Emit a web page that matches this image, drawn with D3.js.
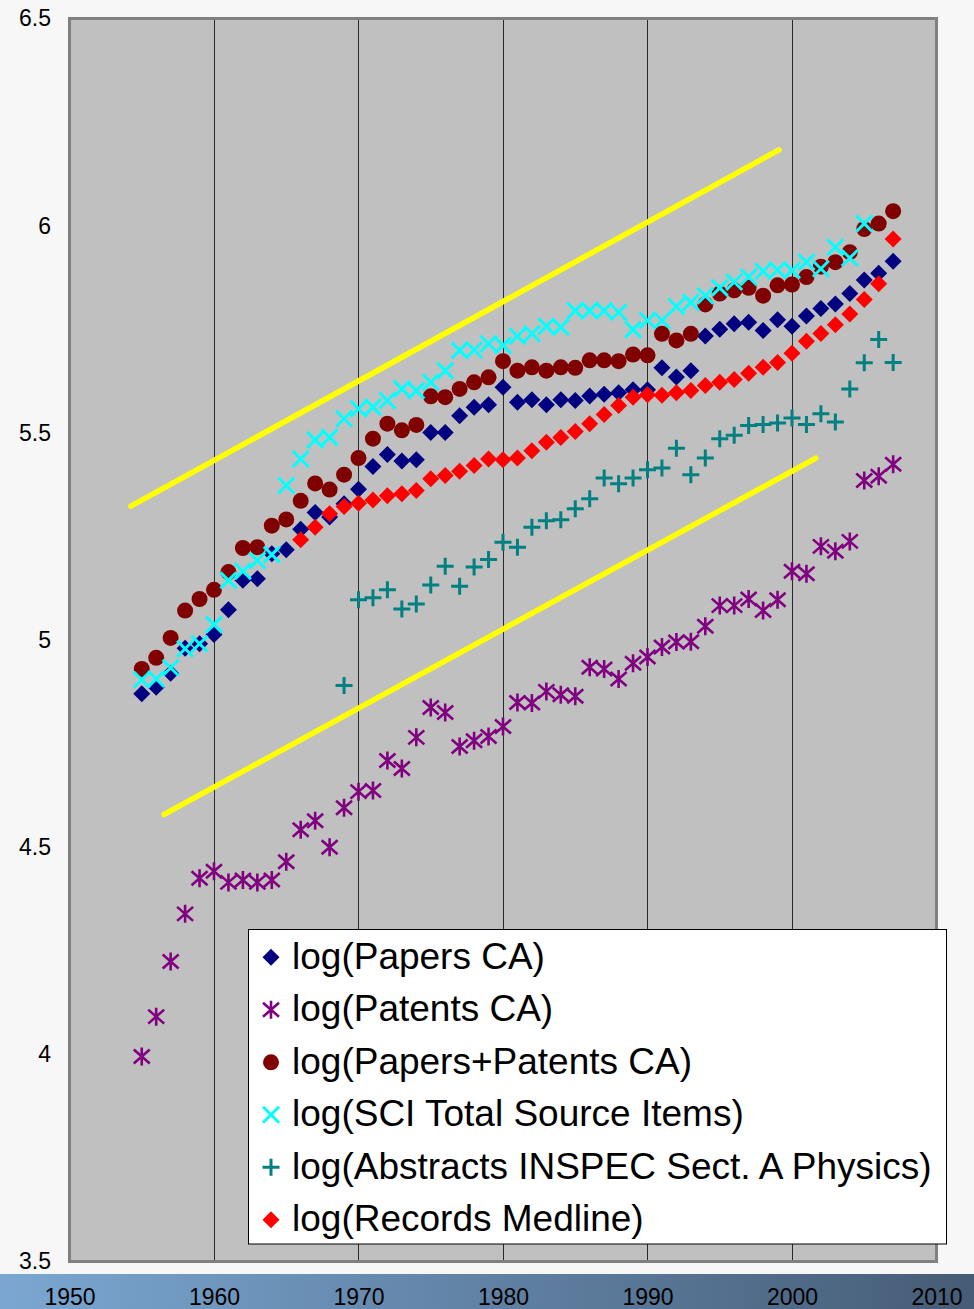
<!DOCTYPE html>
<html lang="en">
<head>
    <script src='https://d3js.org/d3.v7.min.js'></script>
    <style>
      body { margin: 0; background: #f7f7f7; }
      svg { display: block; font-family: "Liberation Sans", Arial, sans-serif; }
    </style>
</head>
<body>
<script>
// years on the x axis
var years = [1955, 1956, 1957, 1958, 1959, 1960, 1961, 1962, 1963, 1964,
  1965, 1966, 1967, 1968, 1969, 1970, 1971, 1972, 1973, 1974,
  1975, 1976, 1977, 1978, 1979, 1980, 1981, 1982, 1983, 1984,
  1985, 1986, 1987, 1988, 1989, 1990, 1991, 1992, 1993, 1994,
  1995, 1996, 1997, 1998, 1999, 2000, 2001, 2002, 2003, 2004,
  2005, 2006, 2007];

var papersCA = [4.870, 4.886, 4.920, 4.980, 4.991, 5.013, 5.073, 5.144, 5.148, 5.208,
  5.218, 5.267, 5.308, 5.297, 5.329, 5.364, 5.419, 5.448, 5.432, 5.435,
  5.501, 5.501, 5.541, 5.562, 5.568, 5.610, 5.574, 5.580, 5.568, 5.580,
  5.578, 5.589, 5.593, 5.597, 5.604, 5.604, 5.657, 5.635, 5.650, 5.734,
  5.750, 5.763, 5.767, 5.747, 5.773, 5.757, 5.782, 5.800, 5.811, 5.836,
  5.869, 5.885, 5.914];

var patentsCA = [3.995, 4.091, 4.224, 4.339, 4.425, 4.442, 4.415, 4.421, 4.415, 4.421,
  4.465, 4.542, 4.564, 4.500, 4.595, 4.634, 4.637, 4.709, 4.690, 4.765,
  4.837, 4.825, 4.743, 4.757, 4.767, 4.791, 4.849, 4.848, 4.876, 4.868,
  4.864, 4.934, 4.930, 4.906, 4.944, 4.959, 4.983, 4.995, 4.996, 5.033,
  5.083, 5.083, 5.099, 5.071, 5.097, 5.166, 5.160, 5.226, 5.214, 5.238,
  5.385, 5.395, 5.424];

var papersPatentsCA = [4.930, 4.957, 5.005, 5.071, 5.099, 5.121, 5.164, 5.222, 5.224, 5.276,
  5.291, 5.336, 5.378, 5.363, 5.399, 5.439, 5.486, 5.522, 5.506, 5.519,
  5.588, 5.586, 5.606, 5.622, 5.634, 5.673, 5.650, 5.658, 5.650, 5.658,
  5.657, 5.675, 5.675, 5.673, 5.689, 5.687, 5.739, 5.723, 5.739, 5.810,
  5.836, 5.844, 5.850, 5.831, 5.856, 5.858, 5.876, 5.901, 5.912, 5.936,
  5.992, 6.005, 6.035];

var sciItems = [4.904, 4.906, 4.933, 4.979, 4.991, 5.037, 5.144, 5.166, 5.192, 5.206,
  5.373, 5.437, 5.483, 5.489, 5.534, 5.558, 5.562, 5.578, 5.606, 5.602,
  5.622, 5.650, 5.699, 5.700, 5.715, 5.711, 5.733, 5.739, 5.757, 5.755,
  5.795, 5.795, 5.795, 5.791, 5.749, 5.771, 5.771, 5.805, 5.815, 5.831,
  5.850, 5.864, 5.876, 5.890, 5.893, 5.892, 5.912, 5.896, 5.948, 5.922,
  6.005, null, null];

var inspecA = [null, null, null, null, null, null, null, null, null, null,
  null, null, null, null, 4.890, 5.097, 5.102, 5.121, 5.075, 5.087,
  5.133, 5.178, 5.130, 5.176, 5.194, 5.236, 5.224, 5.272, 5.288, 5.290,
  5.317, 5.341, 5.391, 5.377, 5.391, 5.411, 5.415, 5.463, 5.399, 5.439,
  5.486, 5.494, 5.518, 5.520, 5.524, 5.536, 5.520, 5.546, 5.526, 5.606,
  5.669, 5.725, 5.670];

var medline = [null, null, null, null, null, null, null, null, null, null,
  null, 5.242, 5.272, 5.305, 5.322, 5.330, 5.338, 5.348, 5.353, 5.361,
  5.389, 5.397, 5.407, 5.421, 5.437, 5.435, 5.439, 5.457, 5.477, 5.489,
  5.503, 5.522, 5.544, 5.566, 5.586, 5.592, 5.591, 5.597, 5.602, 5.614,
  5.622, 5.629, 5.644, 5.658, 5.670, 5.692, 5.721, 5.740, 5.761, 5.787,
  5.822, 5.860, 5.968];

// yellow guide lines [year, value]
var upperLine = [[1954.25, 5.323], [1999.1, 6.183]];
var lowerLine = [[1956.55, 4.579], [2001.65, 5.439]];

var xTicks = [1950, 1960, 1970, 1980, 1990, 2000, 2010];
var yTicks = [3.5, 4, 4.5, 5, 5.5, 6, 6.5];

var seriesNames = ["log(Papers CA)", "log(Patents CA)", "log(Papers+Patents CA)",
  "log(SCI Total Source Items)", "log(Abstracts INSPEC Sect. A Physics)", "log(Records Medline)"];
var seriesColors = ["#000080", "#800080", "#800000", "#00ffff", "#008080", "#ff0000"];
var seriesShapes = ["diamond", "star", "circle", "x", "plus", "diamond"];
var seriesData = [papersCA, patentsCA, papersPatentsCA, sciItems, inspecA, medline];

const W = 974, H = 1309;
const plotLeft = 69.5, plotRight = 936.5, plotTop = 18.5, plotBottom = 1261.5;

const svg = d3.select("body").append("svg")
  .attr("width", W)
  .attr("height", H);

var x = d3.scaleLinear().domain([1950, 2010]).range([plotLeft, plotRight]);
var y = d3.scaleLinear().domain([3.5, 6.5]).range([plotBottom, plotTop]);

// bottom gradient band
var grad = svg.append("defs").append("linearGradient").attr("id", "band");
grad.append("stop").attr("offset", "0%").attr("stop-color", "#7ba7d2");
grad.append("stop").attr("offset", "100%").attr("stop-color", "#465c76");
svg.append("rect").attr("x", 0).attr("y", 1274).attr("width", W).attr("height", 35)
  .attr("fill", "url(#band)");

// plot area
svg.append("rect")
  .attr("x", plotLeft).attr("y", plotTop)
  .attr("width", plotRight - plotLeft).attr("height", plotBottom - plotTop)
  .attr("fill", "#c0c0c0")
  .attr("stroke", "#808080")
  .attr("stroke-width", 3);

// vertical grid lines
svg.append("g").selectAll("line")
  .data(xTicks.slice(1, -1))
  .enter().append("line")
  .attr("x1", d => Math.round(x(d)) + 0.5).attr("x2", d => Math.round(x(d)) + 0.5)
  .attr("y1", plotTop + 1.5).attr("y2", plotBottom - 1.5)
  .attr("stroke", "#2a2a2a")
  .attr("stroke-width", 1);

// axes labels
var xAxis = svg.append("g")
  .attr("transform", "translate(0,1297)")
  .call(d3.axisBottom(x).tickValues(xTicks).tickFormat(d3.format("d")).tickSize(0));
xAxis.select(".domain").remove();
xAxis.selectAll("text").attr("dy", "0.35em").attr("y", 0)
  .attr("font-size", 23).attr("fill", "#000").attr("font-family", "Liberation Sans, Arial");

var yAxis = svg.append("g")
  .attr("transform", "translate(51,0)")
  .call(d3.axisLeft(y).tickValues(yTicks).tickFormat(d3.format("")).tickSize(0));
yAxis.select(".domain").remove();
yAxis.selectAll("text").attr("x", 0)
  .attr("font-size", 23).attr("fill", "#000").attr("font-family", "Liberation Sans, Arial");

// yellow lines
var line = d3.line().x(d => x(d[0])).y(d => y(d[1]));
[upperLine, lowerLine].forEach(function(l) {
  svg.append("path").attr("d", line(l))
    .attr("stroke", "#ffff00").attr("stroke-width", 5.5)
    .attr("stroke-linecap", "round").attr("fill", "none");
});

// marker drawing
function drawMarker(g, shape, color) {
  if (shape == "diamond") {
    g.append("path").attr("d", "M0,-8.5L8.5,0L0,8.5L-8.5,0Z").attr("fill", color);
  } else if (shape == "circle") {
    g.append("circle").attr("r", 8).attr("fill", color);
  } else if (shape == "x") {
    g.append("path").attr("d", "M-8,-8L8,8M-8,8L8,-8")
      .attr("stroke", color).attr("stroke-width", 3).attr("fill", "none");
  } else if (shape == "plus") {
    g.append("path").attr("d", "M-8.5,0L8.5,0M0,-8.5L0,8.5")
      .attr("stroke", color).attr("stroke-width", 3).attr("fill", "none");
  } else if (shape == "star") {
    g.append("path").attr("d", "M0,-9L0,9M-8,-7L8,7M-8,7L8,-7")
      .attr("stroke", color).attr("stroke-width", 2.6).attr("fill", "none");
  }
}

seriesData.forEach(function(vals, s) {
  var pts = years.map((yr, i) => [yr, vals[i]]).filter(d => d[1] != null);
  svg.append("g").selectAll("g")
    .data(pts)
    .enter().append("g")
    .attr("transform", d => "translate(" + x(d[0]) + "," + y(d[1]) + ")")
    .each(function() { drawMarker(d3.select(this), seriesShapes[s], seriesColors[s]); });
});

// legend
var legend = svg.append("g");
legend.append("rect")
  .attr("x", 248.5).attr("y", 929.5).attr("width", 698).attr("height", 314.5)
  .attr("fill", "#ffffff").attr("stroke", "#000").attr("stroke-width", 1);

seriesNames.forEach(function(name, i) {
  var cy = 957.3 + i * 52.5;
  var m = legend.append("g").attr("transform", "translate(271," + cy + ")");
  drawMarker(m, seriesShapes[i], seriesColors[i]);
  legend.append("text")
    .attr("x", 292).attr("y", cy + 11.5)
    .attr("font-size", 37).attr("fill", "#000")
    .text(name);
});
</script>
</body>
</html>
